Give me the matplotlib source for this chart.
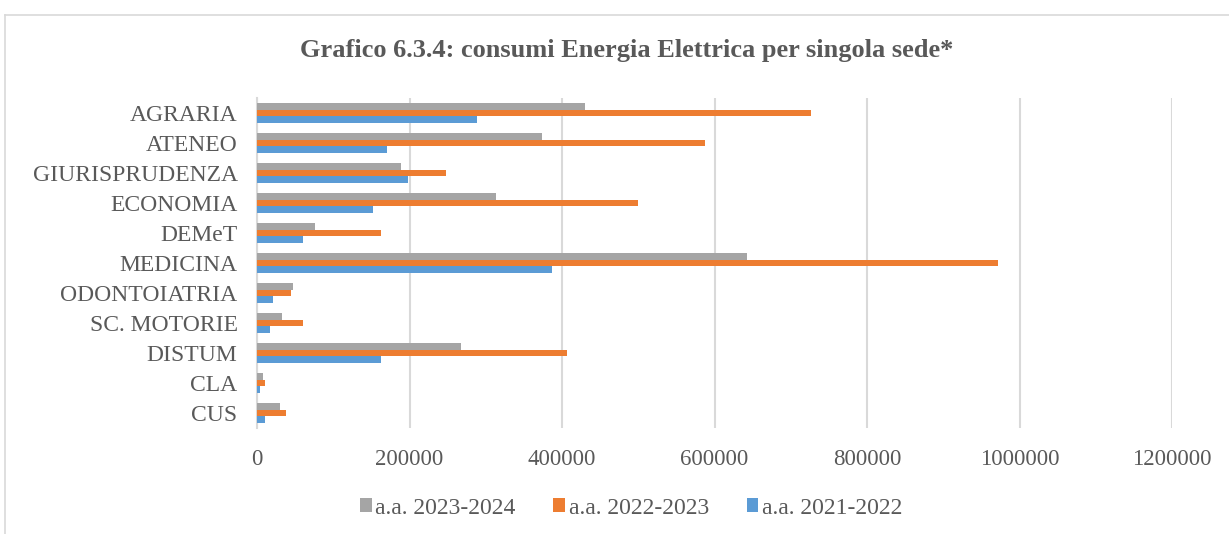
import matplotlib
matplotlib.use('Agg')
import matplotlib.pyplot as plt
import numpy as np

sedi = ["AGRARIA", "ATENEO", "GIURISPRUDENZA", "ECONOMIA", "DEMeT", "MEDICINA",
        "ODONTOIATRIA", "SC. MOTORIE", "DISTUM", "CLA", "CUS"]
aa_2023_2024 = [430000, 374000, 189000, 313000, 76000, 643000, 47000, 33000, 268000, 8000, 30000]
aa_2022_2023 = [727000, 588000, 248000, 500000, 162000, 972000, 45000, 60000, 407000, 10000, 37500]
aa_2021_2022 = [288000, 170000, 198000, 152000, 60000, 387000, 21000, 17000, 163000, 3500, 11000]

text_col = "#595959"
plt.rcParams['font.family'] = ['Liberation Serif', 'DejaVu Serif']

fig = plt.figure(figsize=(12.29, 5.34), dpi=100)
ax = fig.add_axes([257/1229, 1-428/534, (1172-257)/1229, 330/534])

y = np.arange(len(sedi))[::-1]
h = 0.23
ax.barh(y + h, aa_2023_2024, height=h, color="#A5A5A5", label="a.a. 2023-2024", zorder=3)
ax.barh(y, aa_2022_2023, height=h, color="#ED7D31", label="a.a. 2022-2023", zorder=3)
ax.barh(y - h, aa_2021_2022, height=h, color="#5B9BD5", label="a.a. 2021-2022", zorder=3)

ax.set_xlim(0, 1200000)
ax.set_ylim(-0.5, len(sedi) - 0.5)
ax.set_yticks(y)
ax.set_yticklabels(sedi)
ax.set_xticks(np.arange(0, 1200001, 200000))
ax.set_xticklabels([str(v) for v in range(0, 1200001, 200000)])
ax.tick_params(axis='both', length=0, colors=text_col)
ax.tick_params(axis='x', pad=15, labelsize=16.5)
ax.tick_params(axis='y', pad=14, labelsize=17)
ax.grid(axis='x', color="#D9D9D9", linewidth=1.5, zorder=0)
for s in ["top", "right", "bottom"]:
    ax.spines[s].set_visible(False)
ax.spines["left"].set_color("#D9D9D9")
ax.spines["left"].set_linewidth(1.5)

fig.text(627/1229, 1-50/534, "Grafico 6.3.4: consumi Energia Elettrica per singola sede*",
         ha="center", va="center", fontsize=19, fontweight="bold", color=text_col)

leg = fig.legend(loc="center", bbox_to_anchor=(631/1229, 1-508/534), ncol=3, frameon=False,
                 fontsize=17, handlelength=0.5, handleheight=0.5, handletextpad=0.15,
                 columnspacing=1.6)
for t in leg.get_texts():
    t.set_color(text_col)

# chart border
fig.add_artist(plt.Line2D([5/1229, 5/1229], [0, 1-15/534], transform=fig.transFigure,
                          color="#D9D9D9", linewidth=1.2))
fig.add_artist(plt.Line2D([5/1229, 1], [1-15/534, 1-15/534], transform=fig.transFigure,
                          color="#D9D9D9", linewidth=1.2))

fig.savefig("out.png", dpi=100)
